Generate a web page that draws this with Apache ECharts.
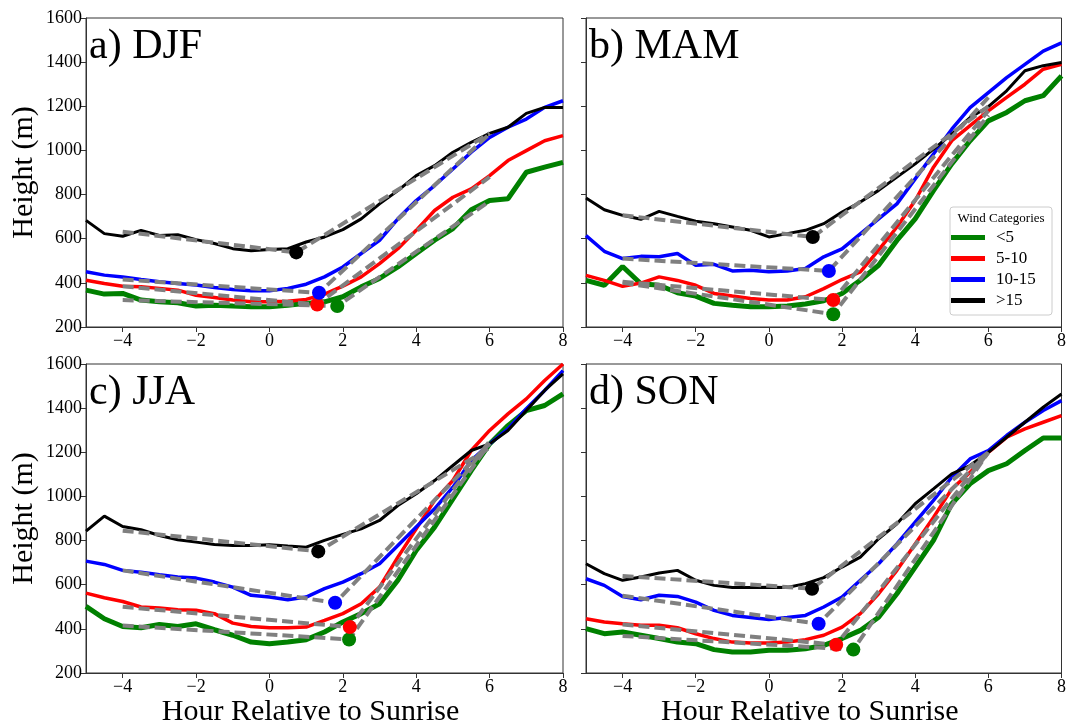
<!DOCTYPE html>
<html><head><meta charset="utf-8">
<script src="https://cdn.jsdelivr.net/npm/echarts@6/dist/echarts.min.js"></script>
<style>html,body{margin:0;padding:0;background:#fff}#c{width:1069px;height:728px}</style>
</head><body><div id="c"></div><script>
// ---- data ----
const hours = [-5,-4.5,-4,-3.5,-3,-2.5,-2,-1.5,-1,-0.5,0,0.5,1,1.5,2,2.5,3,3.5,4,4.5,5,5.5,6,6.5,7,7.5,8];
const categories = ['<5','5-10','10-15','>15'];
const panelLabels = ['a) DJF','b) MAM','c) JJA','d) SON'];
const xTicks = [-4,-2,0,2,4,6,8];

// DJF
const djfLt5   = [367,349,352,322,314,310,295,299,295,292,292,299,307,314,337,382,420,472,533,593,646,731,773,781,901,924,946];
const djf5to10 = [412,397,385,382,375,367,344,334,322,314,314,317,325,349,385,427,487,555,638,728,788,826,886,954,999,1044,1067];
const djf10to15= [450,435,427,415,405,397,390,379,370,364,364,375,394,427,472,533,593,690,773,841,916,992,1059,1105,1142,1195,1225];
const djfGt15  = [683,623,611,638,615,618,596,578,555,545,551,555,585,608,641,690,758,818,886,931,992,1037,1077,1105,1168,1195,1195];
// MAM
const mamLt5   = [411,389,474,396,389,355,340,307,299,292,292,295,304,319,352,412,480,592,690,818,939,1044,1134,1172,1225,1248,1338];
const mam5to10 = [434,411,384,399,427,411,389,352,340,329,322,322,337,374,415,450,548,653,773,924,1044,1112,1179,1240,1300,1368,1390];
const mam10to15= [614,543,510,520,518,533,480,484,454,457,450,454,465,518,554,622,690,758,871,984,1096,1194,1262,1330,1390,1450,1487];
const mamGt15  = [784,731,706,688,724,701,679,668,653,638,608,623,638,668,721,766,819,879,939,1006,1074,1149,1198,1270,1361,1384,1398];
// JJA
const jjaLt5   = [502,446,411,405,420,411,423,396,371,340,333,340,351,386,431,469,514,620,755,861,989,1117,1238,1321,1389,1412,1465];
const jja5to10 = [562,541,524,499,494,487,484,469,426,411,405,405,408,438,469,514,589,725,853,982,1072,1208,1299,1374,1442,1525,1600];
const jja10to15= [707,692,665,657,645,635,630,612,589,552,544,532,544,582,612,650,695,778,861,944,1042,1163,1238,1306,1397,1480,1570];
const jjaGt15  = [843,911,864,849,823,804,793,782,778,778,781,775,770,801,828,853,891,959,1012,1072,1140,1208,1238,1299,1389,1480,1555];
// SON
const sonLt5   = [401,378,386,371,356,340,333,306,295,295,303,303,310,325,356,393,453,559,680,801,967,1057,1117,1148,1208,1265,1265];
const son5to10 = [446,431,423,416,416,405,378,356,340,336,336,340,351,371,408,469,559,665,785,905,1034,1109,1200,1268,1306,1336,1366];
const son10to15= [627,597,547,532,552,547,521,484,461,451,442,451,461,499,544,620,695,785,884,982,1087,1170,1208,1276,1336,1389,1434];
const sonGt15  = [695,650,620,635,653,665,620,597,587,587,589,587,605,632,680,725,808,876,967,1034,1102,1140,1200,1268,1336,1404,1464];

// two-segment fits: start (x=-4), breakpoint, end (x=6); order <5, 5-10, 10-15, >15
const fitStartX = -4, fitEndX = 6;
const djfFitStart = [322,385,415,632], djfBreakX = [1.85,1.30,1.35,0.73], djfBreakY = [295,302,355,538], djfFitEnd = [770,880,1075,1078];
const mamFitStart = [400,405,510,706], mamBreakX = [1.76,1.76,1.64,1.20], mamBreakY = [258,322,454,608], mamFitEnd = [1160,1180,1240,1200];
const jjaFitStart = [415,500,665,845], jjaBreakX = [2.17,2.19,1.79,1.33], jjaBreakY = [352,408,518,751], jjaFitEnd = [1240,1250,1240,1220];
const sonFitStart = [368,420,550,640], sonBreakX = [2.31,1.84,1.36,1.18], sonBreakY = [306,328,423,582], sonFitEnd = [1200,1200,1200,1200];

// ---- styling ----
const colors = ['#008000','#ff0000','#0000ff','#000000'];
const lineWidths = [5,3.5,3.5,3];
const FONT = 'Liberation Serif';
const panels = [
  {series:[djfLt5,djf5to10,djf10to15,djfGt15], fs:djfFitStart, bx:djfBreakX, by:djfBreakY, fe:djfFitEnd},
  {series:[mamLt5,mam5to10,mam10to15,mamGt15], fs:mamFitStart, bx:mamBreakX, by:mamBreakY, fe:mamFitEnd},
  {series:[jjaLt5,jja5to10,jja10to15,jjaGt15], fs:jjaFitStart, bx:jjaBreakX, by:jjaBreakY, fe:jjaFitEnd},
  {series:[sonLt5,son5to10,son10to15,sonGt15], fs:sonFitStart, bx:sonBreakX, by:sonBreakY, fe:sonFitEnd}
];
const grids = [
  {left:86, top:18, width:477, height:309},
  {left:586, top:18, width:477, height:309},
  {left:86, top:364, width:477, height:309},
  {left:586, top:364, width:477, height:309}
];

const option = {
  animation:false,
  backgroundColor:'#fff',
  title: grids.map((g,i)=>({text:panelLabels[i], left:g.left+3, top:g.top+8, padding:0,
    textStyle:{fontFamily:FONT, fontSize:42, fontWeight:'normal', color:'#000'}})),
  grid: grids.map(g=>Object.assign({show:true, borderColor:'#333', borderWidth:1, backgroundColor:'transparent'}, g)),
  xAxis: grids.map((g,i)=>({
    type:'value', gridIndex:i, min:-5, max:8,
    axisLine:{show:true, onZero:false, lineStyle:{color:'#333', width:1}},
    axisTick:{show:true, customValues:xTicks, length:5, lineStyle:{color:'#333'}},
    axisLabel:{customValues:xTicks, margin:5, color:'#000', fontFamily:FONT, fontSize:18,
      formatter:v=>String(v).replace('-','\u2212')},
    splitLine:{show:false},
    name: i>=2 ? 'Hour Relative to Sunrise' : '',
    nameLocation:'middle', nameGap:24,
    nameTextStyle:{fontFamily:FONT, fontSize:30, color:'#000', padding:[0,28,0,0]}
  })),
  yAxis: grids.map((g,i)=>({
    type:'value', gridIndex:i, min:200, max:1600, interval:200,
    axisLine:{show:true, onZero:false, lineStyle:{color:'#333', width:1}},
    axisTick:{show:true, length:5, lineStyle:{color:'#333'}},
    axisLabel:{show: i%2===0, margin:4, color:'#000', fontFamily:FONT, fontSize:18,
      formatter:v=>String(v)},
    splitLine:{show:false},
    name: i%2===0 ? 'Height (m)' : '',
    nameLocation:'middle', nameGap:47, nameRotate:90,
    nameTextStyle:{fontFamily:FONT, fontSize:30, color:'#000'}
  })),
  legend:{
    data:categories, orient:'vertical', left:951, top:229, z:12, padding:0,
    icon:'rect', itemWidth:34, itemHeight:5, itemGap:4,
    textStyle:{fontFamily:FONT, fontSize:17, color:'#000', padding:[0,0,0,6]},
    selectedMode:false
  },
  graphic:[
    {type:'rect', z:10, shape:{x:950, y:207, width:102, height:108, r:3},
      style:{fill:'rgba(255,255,255,0.85)', stroke:'#cccccc', lineWidth:1}},
    {type:'text', z:11, x:1001, y:219, style:{text:'Wind Categories', fontFamily:FONT, fontSize:13,
      fill:'#000', align:'center', verticalAlign:'middle'}}
  ],
  series:[]
};

panels.forEach((p,i)=>{
  p.series.forEach((arr,c)=>{
    option.series.push({
      name:categories[c], type:'line', xAxisIndex:i, yAxisIndex:i,
      data:hours.map((h,k)=>[h,arr[k]]), showSymbol:false, symbol:'none', z:2,
      itemStyle:{color:colors[c]},
      lineStyle:{color:colors[c], width:lineWidths[c]}
    });
  });
  p.series.forEach((arr,c)=>{
    option.series.push({
      name:'fit', type:'line', xAxisIndex:i, yAxisIndex:i, silent:true,
      data:[[fitStartX,p.fs[c]],[p.bx[c],p.by[c]],[fitEndX,p.fe[c]]],
      showSymbol:false, symbol:'none', z:3,
      lineStyle:{color:'#808080', width:4, type:[11,5]}
    });
  });
  p.series.forEach((arr,c)=>{
    option.series.push({
      name:'break', type:'scatter', xAxisIndex:i, yAxisIndex:i, silent:true,
      data:[[p.bx[c],p.by[c]]], symbolSize:14, z:4,
      itemStyle:{color:colors[c], opacity:1}
    });
  });
});

const chart = echarts.init(document.getElementById('c'), null, {renderer:'canvas'});
chart.setOption(option);
</script></body></html>
